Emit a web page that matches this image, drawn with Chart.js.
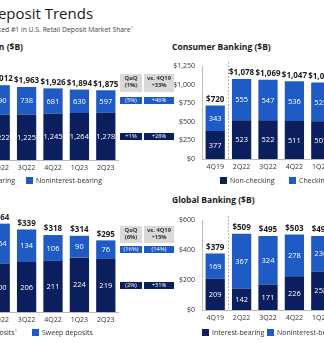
<!DOCTYPE html>
<html>
<head>
<meta charset="utf-8">
<script src="https://cdn.jsdelivr.net/npm/chart.js@4"></script>
<style>
  html, body { margin: 0; padding: 0; background: #fff; }
  body { width: 324px; height: 343px; overflow: hidden; position: relative; font-family: "Open Sans", sans-serif; }
  canvas { position: absolute; }
  .txt { position: absolute; white-space: nowrap; }
  .title { font-size: 15px; color: #1a1a1a; }
  .sub { font-size: 6.8px; color: #444; }
  .ctitle { font-size: 8.5px; font-weight: 700; color: #1a1a1a; }
  .legend { font-size: 7px; color: #333; }
  .sw { display: inline-block; width: 7px; height: 7px; vertical-align: -1px; margin-right: 3px; }
  .box { position: absolute; text-align: center; font-size: 5.8px; line-height: 7px; }
  .hd { background: #d9d9d9; color: #333; font-weight: 700; }
  .rw { color: #fff; }
</style>
</head>
<body>
<div class="txt title" style="left:-13px; top:3px;">Deposit Trends</div>
<div class="txt sub" style="right:191px; top:25px;">Ranked #1 in U.S. Retail Deposit Market Share<sup style="font-size:4px">1</sup></div>
<div class="txt ctitle" style="right:301px; top:41px;">Total Corporation ($B)</div>
<div class="txt ctitle" style="left:172px; top:41px;">Consumer Banking ($B)</div>
<div class="txt ctitle" style="left:172px; top:194px;">Global Banking ($B)</div>

<canvas id="totalChart" width="132" height="126" style="left:-13px; top:60px;"></canvas>
<canvas id="consumerChart" width="174" height="130" style="left:160px; top:55px;"></canvas>
<canvas id="gwimChart" width="132" height="138" style="left:-13px; top:200px;"></canvas>
<canvas id="globalChart" width="174" height="127" style="left:160px; top:209px;"></canvas>

<!-- legends -->
<div class="txt legend" style="right:309px; top:176px;"><span class="sw" style="background:#0b1f5e"></span>Interest-bearing</div>
<div class="txt legend" style="left:26px; top:176px;"><span class="sw" style="background:#1f5bc4"></span>Noninterest-bearing</div>
<div class="txt legend" style="left:220px; top:176px;"><span class="sw" style="background:#0b1f5e"></span>Non-checking</div>
<div class="txt legend" style="left:289px; top:176px;"><span class="sw" style="background:#1f5bc4"></span>Checking<sup style="font-size:4px">2</sup></div>
<div class="txt legend" style="right:307px; top:328px;"><span class="sw" style="background:#0b1f5e"></span>Bank deposits<sup style="font-size:4px">1</sup></div>
<div class="txt legend" style="left:32px; top:328px;"><span class="sw" style="background:#1f5bc4"></span>Sweep deposits</div>
<div class="txt legend" style="left:202px; top:328px;"><span class="sw" style="background:#0b1f5e"></span>Interest-bearing</div>
<div class="txt legend" style="left:267px; top:328px;"><span class="sw" style="background:#1f5bc4"></span>Noninterest-bearing</div>

<!-- growth tables -->
<div class="box hd" style="left:120px; top:74px; width:22px; height:17px; padding-top:1px;">QoQ<br>(1%)</div>
<div class="box hd" style="left:144px; top:74px; width:30px; height:17px; padding-top:1px;">vs. 4Q19<br>+33%</div>
<div class="box rw" style="left:120px; top:97px; width:22px; height:7px; background:#1f5bc4;">(5%)</div>
<div class="box rw" style="left:144px; top:97px; width:30px; height:7px; background:#1f5bc4;">+46%</div>
<div class="box rw" style="left:120px; top:133px; width:22px; height:7px; background:#0b1f5e;">+1%</div>
<div class="box rw" style="left:144px; top:133px; width:30px; height:7px; background:#0b1f5e;">+28%</div>

<div class="box hd" style="left:120px; top:226px; width:22px; height:16px; padding-top:1px;">QoQ<br>(6%)</div>
<div class="box hd" style="left:144px; top:226px; width:30px; height:16px; padding-top:1px;">vs. 4Q19<br>+15%</div>
<div class="box rw" style="left:120px; top:246px; width:22px; height:7px; background:#1f5bc4;">(16%)</div>
<div class="box rw" style="left:144px; top:246px; width:30px; height:7px; background:#1f5bc4;">(14%)</div>
<div class="box rw" style="left:120px; top:282px; width:22px; height:7px; background:#0b1f5e;">(2%)</div>
<div class="box rw" style="left:144px; top:282px; width:30px; height:7px; background:#0b1f5e;">+31%</div>

<script>
// Quarters
const recentQuarters = ['2Q22', '3Q22', '4Q22', '1Q23', '2Q23'];
const segmentQuarters = ['4Q19', '2Q22', '3Q22', '4Q22', '1Q23'];

// Total Corporation
const totalInterest = [1222, 1225, 1245, 1264, 1278];
const totalNonInterest = [790, 738, 681, 630, 597];
const totalSums = [2012, 1963, 1926, 1894, 1875];

// Consumer Banking
const consumerNonChecking = [377, 523, 522, 511, 507];
const consumerChecking = [343, 555, 547, 536, 525];
const consumerSums = [720, 1078, 1069, 1047, 1032];

// GWIM
const gwimBank = [200, 206, 211, 224, 219];
const gwimSweep = [164, 134, 106, 90, 76];
const gwimSums = [364, 339, 318, 314, 295];

// Global Banking
const globalInterest = [209, 142, 171, 226, 258];
const globalNonInterest = [169, 367, 324, 278, 236];
const globalSums = [379, 509, 495, 503, 494];

const consumerTicks = [0, 250, 500, 750, 1000, 1250];
const globalTicks = [0, 200, 400, 600];

const NAVY = '#0b1f5e';
const BLUE = '#1f5bc4';
const FONT = '"Open Sans", sans-serif';

// segment values in white, totals in bold above each bar
const barLabels = {
    id: 'barLabels',
    afterDatasetsDraw(chart) {
        const ctx = chart.ctx;
        const totals = chart.options.plugins.barLabels.totals;
        ctx.save();
        ctx.textAlign = 'center';
        ctx.textBaseline = 'middle';
        ctx.fillStyle = '#fff';
        ctx.font = '7.5px ' + FONT;
        chart.data.datasets.forEach((ds, i) => {
            chart.getDatasetMeta(i).data.forEach((bar, j) => {
                ctx.fillText(ds.data[j].toLocaleString('en-US'), bar.x, (bar.y + bar.base) / 2 + 0.5);
            });
        });
        const last = chart.getDatasetMeta(chart.data.datasets.length - 1).data;
        ctx.fillStyle = '#1a1a1a';
        ctx.font = 'bold 8px ' + FONT;
        last.forEach((bar, j) => {
            ctx.fillText('$' + totals[j].toLocaleString('en-US'), bar.x, bar.y - 6);
        });
        ctx.restore();
    }
};

// dotted divider between 4Q19 and the recent quarters
const divider = {
    id: 'divider',
    afterDatasetsDraw(chart) {
        if (!chart.options.plugins.divider.show) return;
        const x = (chart.scales.x.getPixelForValue(0) + chart.scales.x.getPixelForValue(1)) / 2;
        const ctx = chart.ctx;
        ctx.save();
        ctx.strokeStyle = '#999';
        ctx.lineWidth = 1;
        ctx.setLineDash([1.5, 2]);
        ctx.beginPath();
        ctx.moveTo(Math.round(x) + 0.5, chart.chartArea.top - 4);
        ctx.lineTo(Math.round(x) + 0.5, chart.chartArea.bottom);
        ctx.stroke();
        ctx.restore();
    }
};

function makeChart(id, labels, bottom, top, totals, opts) {
    const ctx = document.getElementById(id).getContext('2d');
    return new Chart(ctx, {
        type: 'bar',
        data: {
            labels: labels,
            datasets: [
                { data: bottom, backgroundColor: NAVY, barPercentage: 0.73, categoryPercentage: 1 },
                { data: top, backgroundColor: BLUE, barPercentage: 0.73, categoryPercentage: 1 }
            ]
        },
        options: {
            responsive: false,
            animation: false,
            layout: { padding: { top: opts.padTop, left: 0, right: 0, bottom: 10 } },
            plugins: {
                legend: { display: false },
                tooltip: { enabled: false },
                barLabels: { totals: totals },
                divider: { show: !!opts.divider }
            },
            scales: {
                x: {
                    stacked: true,
                    grid: { display: false, drawTicks: false },
                    border: { color: '#bbb' },
                    ticks: { color: '#333', font: { family: FONT, size: 7 }, padding: 4, maxRotation: 0 },
                    afterFit(scale) { scale.height = 16; }
                },
                y: {
                    stacked: true,
                    display: !!opts.ticks,
                    min: 0,
                    max: opts.max,
                    grid: { display: false, drawTicks: false },
                    border: { color: '#bbb' },
                    afterBuildTicks(scale) {
                        if (opts.ticks) scale.ticks = opts.ticks.map(v => ({ value: v }));
                    },
                    ticks: {
                        color: '#333',
                        font: { family: FONT, size: 7 },
                        padding: 7,
                        callback: v => '$' + v.toLocaleString('en-US')
                    },
                    afterFit(scale) { if (opts.ticks) scale.width = 42; }
                }
            }
        },
        plugins: [barLabels, divider]
    });
}

makeChart('totalChart', recentQuarters, totalInterest, totalNonInterest, totalSums, { padTop: 10, max: 2420 });
makeChart('consumerChart', segmentQuarters, consumerNonChecking, consumerChecking, consumerSums,
    { padTop: 8, max: 1250, ticks: consumerTicks, divider: true });
makeChart('gwimChart', recentQuarters, gwimBank, gwimSweep, gwimSums, { padTop: 20, max: 379 });
makeChart('globalChart', segmentQuarters, globalInterest, globalNonInterest, globalSums,
    { padTop: 8, max: 600, ticks: globalTicks, divider: true });
</script>
</body>
</html>
